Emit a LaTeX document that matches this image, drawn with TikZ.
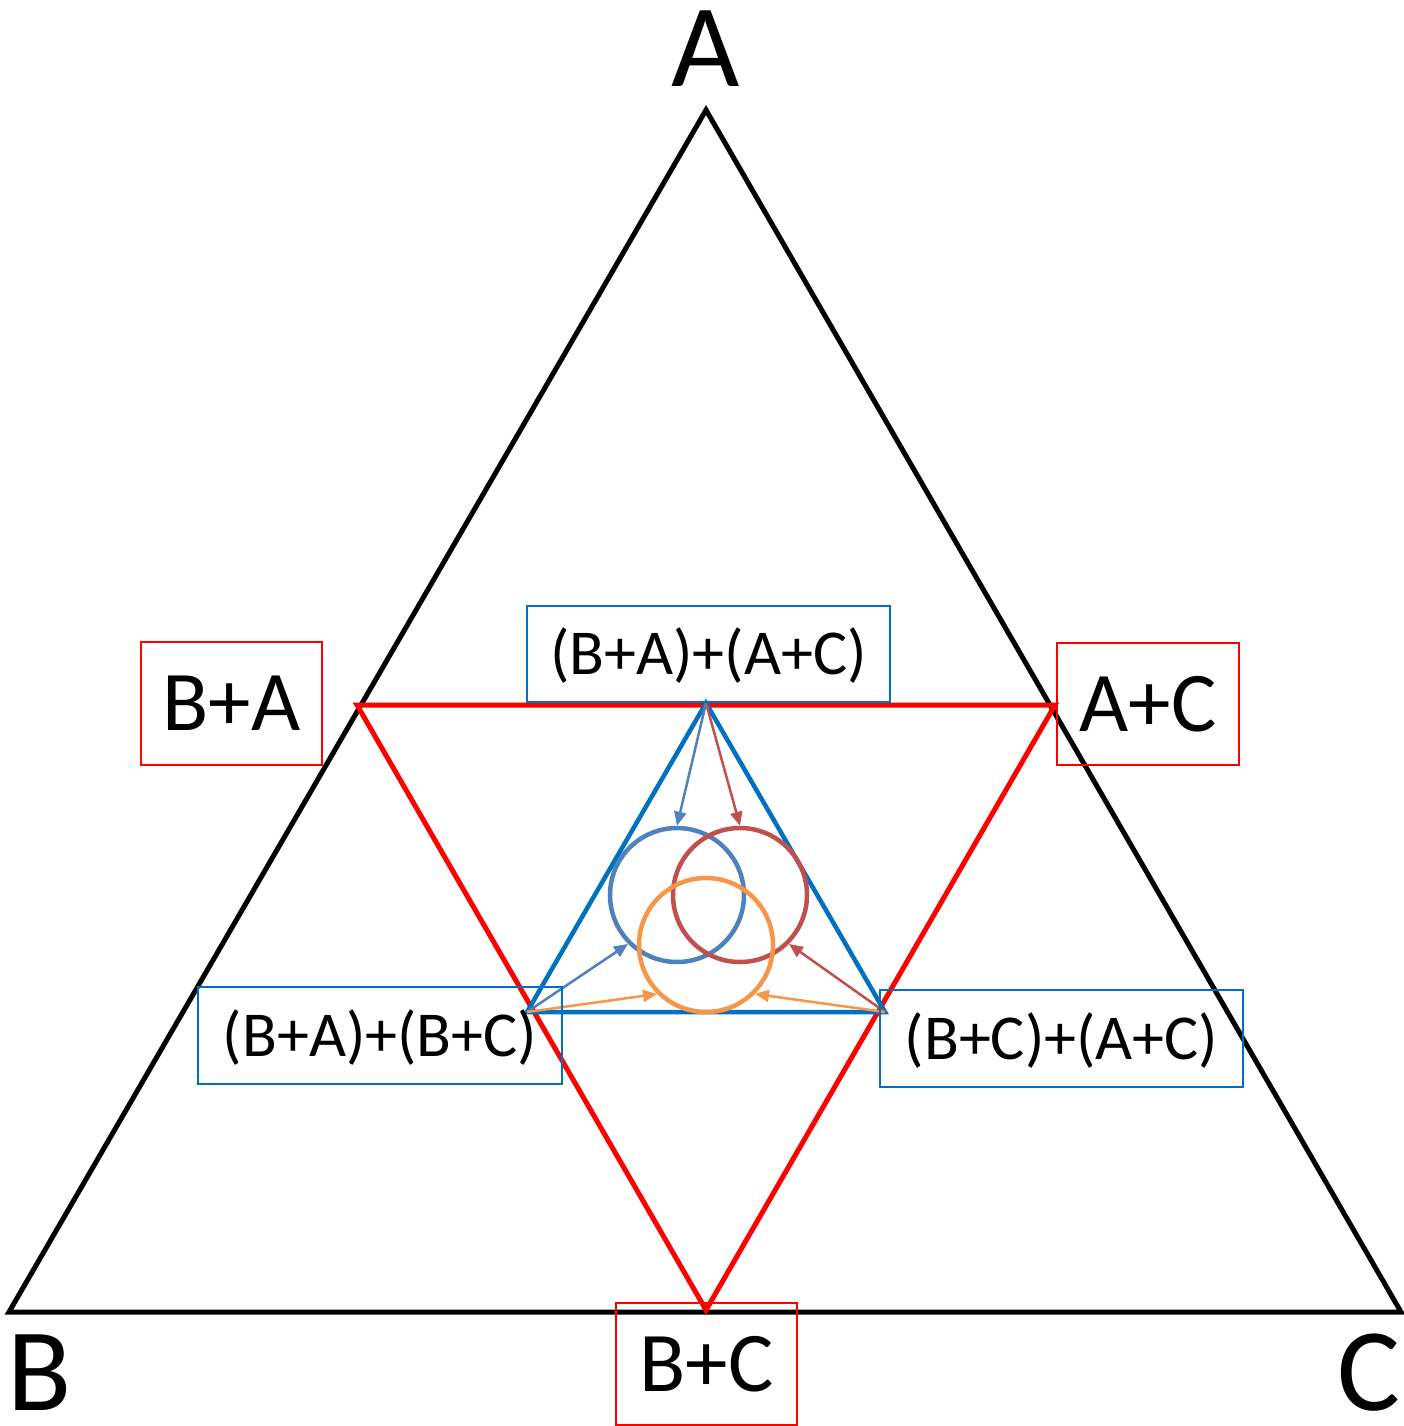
\documentclass[tikz,border=0pt]{standalone}
\usepackage{fontspec}
\setmainfont{Carlito}
\usetikzlibrary{arrows.meta}
\definecolor{tblue}{HTML}{0070C0}
\definecolor{cblue}{HTML}{4F81BD}
\definecolor{cred}{HTML}{C0504D}
\definecolor{corange}{HTML}{F79646}
\definecolor{pred}{HTML}{FF0000}
\tikzset{
  outer/.style={draw=black,line width=5pt},
  redtri/.style={draw=pred,line width=5pt},
  bluetri/.style={draw=tblue,line width=4.5pt},
  ring/.style={circle,draw=#1,line width=4.5pt,minimum size=134pt,inner sep=0pt},
  arr/.style={draw=#1,line width=2.5pt,-{Triangle[length=14pt,width=12pt]}},
  vlabel/.style={font=\fontsize{118}{120}\selectfont,anchor=base,inner sep=0pt},
  redbox/.style={draw=pred,line width=1.6pt,inner sep=0pt,text height=54pt,text depth=0pt,
    font=\fontsize{85}{90}\selectfont},
  bluebox/.style={draw=tblue,line width=1.6pt,inner sep=0pt,text height=41pt,text depth=0pt,
    font=\fontsize{64}{68}\selectfont},
}
\begin{document}
\begin{tikzpicture}[x=1pt,y=-1pt]
\useasboundingbox (0,0) rectangle (1403,1426);
% outer triangle
\coordinate (A) at (706,110);
\coordinate (B) at (9,1312);
\coordinate (C) at (1401,1312);
\draw[outer] (A) -- (B) -- (C) -- cycle;
% red triangle
\coordinate (ba) at (357,705);
\coordinate (ac) at (1055,705);
\coordinate (bc) at (706,1310);
\draw[redtri] (ba) -- (ac) -- (bc) -- cycle;
% blue triangle
\coordinate (t1) at (706,703);
\coordinate (t2) at (527,1012);
\coordinate (t3) at (885,1012);
\draw[bluetri] (t1) -- (t2) -- (t3) -- cycle;
% circles
\node[ring=cblue] (cb) at (677,895) {};
\node[ring=cred] (cr) at (740,895) {};
\node[ring=corange] (co) at (706,945) {};
% arrows
\draw[arr=cblue] (t1) -- (cb.north);
\draw[arr=cred] (t1) -- (cr.north);
\draw[arr=cblue] (t2) -- (cb.225);
\draw[arr=corange] (t2) -- (co.225);
\draw[arr=cred] (t3) -- (cr.315);
\draw[arr=corange] (t3) -- (co.315);
% vertex labels
\node[vlabel] (lA) at (706,87) {A};
\node[vlabel] (lB) at (40,1410) {B};
\node[vlabel] (lC) at (1369,1410) {C};
% red boxes
\node[redbox,minimum width=181pt,minimum height=123pt] (bBA) at (231.5,703.5) {B+A};
\node[redbox,minimum width=182pt,minimum height=122pt] (bAC) at (1148,704) {A+C};
\node[redbox,minimum width=181pt,minimum height=122pt] (bBC) at (706.5,1364) {B+C};
% blue boxes
\node[bluebox,minimum width=363pt,minimum height=96pt] (bT) at (708.5,654) {(B+A)+(A+C)\hspace{9pt}};
\node[bluebox,minimum width=364pt,minimum height=97pt] (bL) at (380,1035.5) {(B+A)+(B+C)\hspace{9pt}};
\node[bluebox,minimum width=363pt,minimum height=97pt] (bR) at (1061.5,1038.5) {(B+C)+(A+C)\hspace{9pt}};
\end{tikzpicture}
\end{document}
